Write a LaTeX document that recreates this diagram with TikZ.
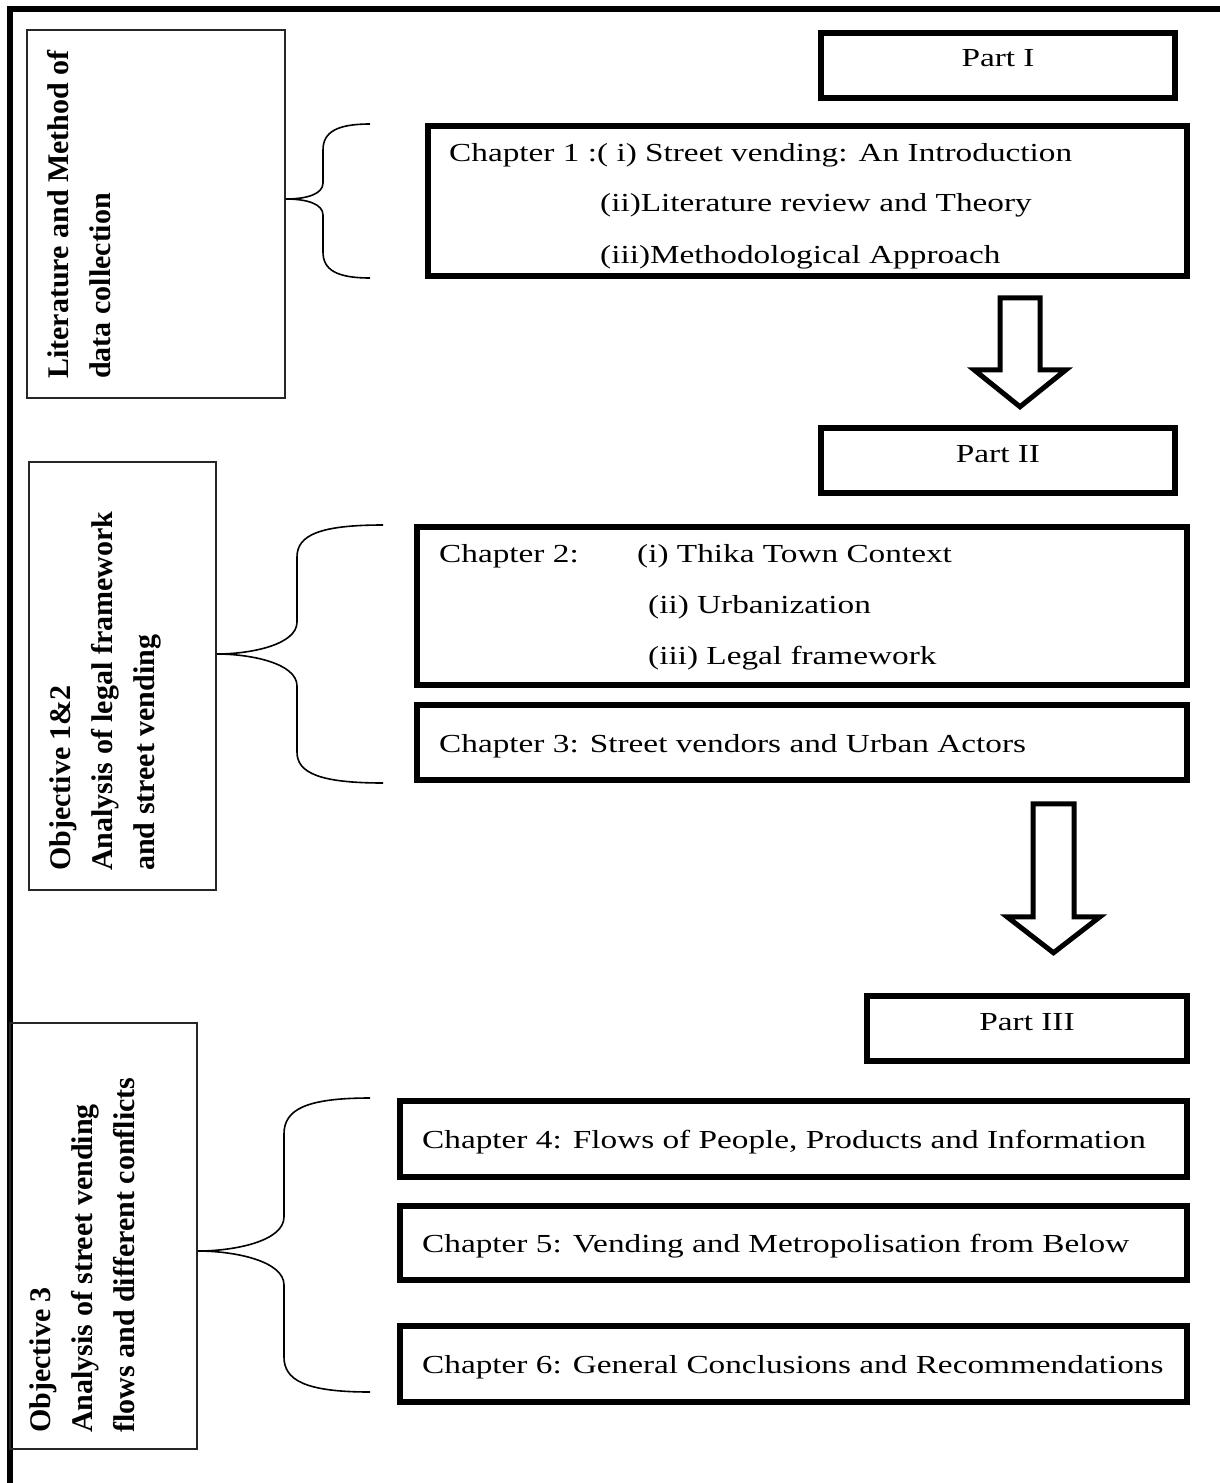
\documentclass[tikz,border=0pt]{standalone}
\usepackage{fontspec}
\setmainfont{Liberation Serif}
\newfontfamily\stretchedserif[FakeStretch=1.28]{Liberation Serif}
\usetikzlibrary{positioning}

\tikzset{
  sidebox/.style={draw=black!85,line width=1.8pt,inner sep=0pt},
  partbox/.style={draw,line width=5.5pt,inner sep=0pt,minimum height=65pt},
  chapbox/.style={draw,line width=5.5pt,inner sep=0pt},
  chaptext/.style={inner sep=0pt,font=\stretchedserif\fontsize{26pt}{30pt}\selectfont,text height=18pt,text depth=1pt},
  sidetext/.style={inner sep=0pt,rotate=90,anchor=north west,align=left,font=\fontsize{30pt}{42pt}\selectfont\bfseries},
  bracket/.style={line width=1.6pt},
  blockarrow/.style={line width=5pt,line join=miter}
}

\begin{document}
\begin{tikzpicture}[x=1pt,y=-1pt]
 \useasboundingbox (0,0) rectangle (1220,1483);
 \draw[line width=5.5pt] (1220,9) -- (10,9) -- (10,1483);

% left column
 \node[sidebox,minimum width=258pt,minimum height=368pt] (litbox) at (156,214) {};
 \node[sidetext] (littext) at (47,379)
 {\baselineskip=45pt Literature and Method of\\data collection};
 \node[sidebox,minimum width=187pt,minimum height=428pt] (objonebox) at (122.5,676) {};
 \node[sidetext] (objonetext) at (49,871)
 {\baselineskip=41pt Objective 1\&2\\Analysis of legal framework\\and street vending};
 \node[sidebox,minimum width=187pt,minimum height=426pt] (objthreebox) at (103.5,1236) {};
 \node[sidetext] (objthreetext) at (29,1433)
 {\baselineskip=40pt Objective 3\\Analysis of street vending\\flows and different conflicts};

% part I
 \node[partbox,minimum width=354pt] (partone) at (998,65.5) {};
 \node[chaptext] (partonetext) at (998,58) {Part I};
 \node[chapbox,minimum width=759pt,minimum height=150pt] (chapone) at (807.5,201) {};
 \node[chaptext,anchor=west] (chaponea) at (449,153) {Chapter 1 :( i) Street vending: An Introduction};
 \node[chaptext,anchor=west] (chaponeb) at (600,203) {(ii)Literature review and Theory};
 \node[chaptext,anchor=west] (chaponec) at (600,255) {(iii)Methodological Approach};

% part II
 \node[partbox,minimum width=354pt] (parttwo) at (998,460.5) {};
 \node[chaptext] (parttwotext) at (998,454) {Part II};
 \node[chapbox,minimum width=770pt,minimum height=158pt] (chaptwo) at (802,606) {};
 \node[chaptext,anchor=west] (chaptwoa) at (439,554) {Chapter 2:};
 \node[chaptext,anchor=west] (chaptwob) at (637,554) {(i) Thika Town Context};
 \node[chaptext,anchor=west] (chaptwoc) at (648,605) {(ii) Urbanization};
 \node[chaptext,anchor=west] (chaptwod) at (648,656) {(iii) Legal framework};
 \node[chapbox,minimum width=770pt,minimum height=75pt] (chapthree) at (802,742.5) {};
 \node[chaptext,anchor=west] (chapthreetext) at (439,744) {Chapter 3: Street vendors and Urban Actors};

% part III
 \node[partbox,minimum width=320pt] (partthree) at (1027,1028.5) {};
 \node[chaptext] (partthreetext) at (1027,1022) {Part III};
 \node[chapbox,minimum width=787pt,minimum height=76pt] (chapfour) at (793.5,1139) {};
 \node[chaptext,anchor=west] (chapfourtext) at (422,1140) {Chapter 4: Flows of People, Products and Information};
 \node[chapbox,minimum width=787pt,minimum height=74pt] (chapfive) at (793.5,1243) {};
 \node[chaptext,anchor=west] (chapfivetext) at (422,1244) {Chapter 5: Vending and Metropolisation from Below};
 \node[chapbox,minimum width=787pt,minimum height=76pt] (chapsix) at (793.5,1364) {};
 \node[chaptext,anchor=west] (chapsixtext) at (422,1365) {Chapter 6: General Conclusions and Recommendations};

% block arrows
 \coordinate (arrowone) at (chapone.south -| 1020,0);
 \draw[blockarrow] (arrowone) ++(-20,19) -- ++(40,0) -- ++(0,72) -- ++(26,0)
   -- ++(-46,37) -- ++(-46,-37) -- ++(26,0) -- cycle;
 \coordinate (arrowtwo) at (chapthree.south -| 1053.5,0);
 \draw[blockarrow] (arrowtwo) ++(-20.5,21) -- ++(41,0) -- ++(0,113) -- ++(26,0)
   -- ++(-46.5,36) -- ++(-46.5,-36) -- ++(26,0) -- cycle;

% braces
 \coordinate (onetop) at (370,124);
 \coordinate (onebot) at (370,278);
 \coordinate (onemid) at (litbox.east |- 0,199);
 \draw[bracket] (onetop) .. controls (337,124) and (323,132) .. (323,150) -- (323,183)
   .. controls (323,194) and (307,199) .. (onemid)
   .. controls (307,199) and (323,204) .. (323,215) -- (323,252)
   .. controls (323,270) and (337,278) .. (onebot);

 \coordinate (twotop) at (383,525);
 \coordinate (twobot) at (383,783);
 \coordinate (twomid) at (objonebox.east |- 0,654);
 \draw[bracket] (twotop) .. controls (320,525) and (297,535) .. (297,557) -- (297,622)
   .. controls (297,645) and (250,654) .. (twomid)
   .. controls (250,654) and (297,663) .. (297,686) -- (297,752)
   .. controls (297,773) and (320,783) .. (twobot);

 \coordinate (threetop) at (370,1098);
 \coordinate (threebot) at (370,1392);
 \coordinate (threemid) at (objthreebox.east |- 0,1251);
 \draw[bracket] (threetop) .. controls (305,1098) and (284,1110) .. (284,1134) -- (284,1217)
   .. controls (284,1241) and (235,1251) .. (threemid)
   .. controls (235,1251) and (284,1261) .. (284,1285) -- (284,1357)
   .. controls (284,1380) and (305,1392) .. (threebot);
\end{tikzpicture}
\end{document}
